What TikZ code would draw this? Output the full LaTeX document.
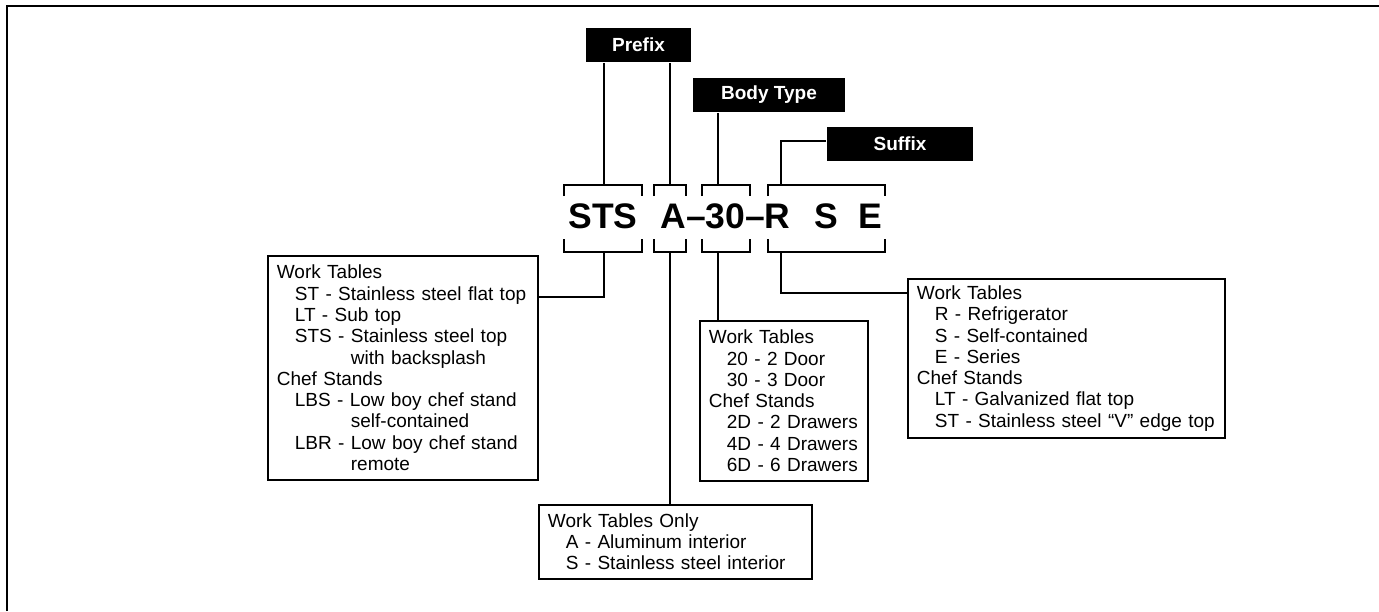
\documentclass[tikz,border=0pt]{standalone}
\usepackage{fontspec}
\setmainfont{Liberation Sans}
\tikzset{
  tag/.style={fill=black, text=white, font=\fontsize{19}{21}\selectfont\bfseries, inner sep=0pt, minimum height=34pt},
  info/.style={draw, anchor=north west, align=left, inner xsep=9pt, inner ysep=0pt, font=\fontsize{19}{21.3}\selectfont},
  code/.style={font=\fontsize{35.5}{36}\selectfont\bfseries, inner sep=0pt, anchor=base},
}
\newcommand{\ind}{\hspace*{18pt}}
\begin{document}
\begin{tikzpicture}[x=1pt, y=-1pt, line width=1.8pt]
    \useasboundingbox (0,0) rectangle (1379,611);
    \draw[line width=2pt] (7,611) -- (7,6) -- (1379,6);

    \node[tag, minimum width=105pt] (pre) at (638.5,45) {Prefix};
    \node[tag, minimum width=152pt] (body) at (769,95) {Body Type};
    \node[tag, minimum width=146pt] (suf) at (900,144) {Suffix};

    \node[code] (sts) at (603,228) {STS};
    \node[code] (mid) at (725.5,228) {A–30–R};
    \node[code] (s) at (826,228) {S};
    \node[code] (e) at (870.5,228) {E};

    % brackets round the code
    \foreach \l/\r in {564/642, 654/686, 702/750, 768/885} {
        \draw (\l,196) -- (\l,185) -- (\r,185) -- (\r,196);
        \draw (\l,239) -- (\l,252) -- (\r,252) -- (\r,239);
    }
    \coordinate (stsT) at (604,185);
    \coordinate (stsB) at (604,252);
    \coordinate (aT) at (670,185);
    \coordinate (aB) at (670,252);
    \coordinate (numT) at (718,185);
    \coordinate (numB) at (718,252);
    \coordinate (rseT) at (781,185);
    \coordinate (rseB) at (781,252);

    \node[info, text width=252pt, minimum height=224pt] (wt) at (267,255) {Work Tables\\
        \ind ST - Stainless steel flat top\\
        \ind LT - Sub top\\
        \ind STS - Stainless steel top\\
        \hspace*{74pt}with backsplash\\
        Chef Stands\\
        \ind LBS - Low boy chef stand\\
        \hspace*{74pt}self-contained\\
        \ind LBR - Low boy chef stand\\
        \hspace*{74pt}remote};
    \node[info, text width=150pt, minimum height=160pt] (bt) at (699,320) {Work Tables\\
        \ind 20 - 2 Door\\
        \ind 30 - 3 Door\\
        Chef Stands\\
        \ind 2D - 2 Drawers\\
        \ind 4D - 4 Drawers\\
        \ind 6D - 6 Drawers};
    \node[info, text width=299pt, minimum height=159pt] (sfx) at (907,278) {Work Tables\\
        \ind R - Refrigerator\\
        \ind S - Self-contained\\
        \ind E - Series\\
        Chef Stands\\
        \ind LT - Galvanized flat top\\
        \ind ST - Stainless steel “V” edge top};
    \node[info, text width=255pt, minimum height=74pt] (alu) at (538,504) {Work Tables Only\\
        \ind A - Aluminum interior\\
        \ind S - Stainless steel interior};

    \draw (pre.south -| stsT) -- (stsT);
    \draw (pre.south -| aT) -- (aT);
    \draw (body.south -| numT) -- (numT);
    \draw ([yshift=3pt]suf.west) -| (rseT);
    \draw (stsB) |- (wt.east |- 0,297);
    \draw (aB) -- (aB |- alu.north);
    \draw (numB) -- (numB |- bt.north);
    \draw (rseB) |- (sfx.west |- 0,293);
\end{tikzpicture}
\end{document}
